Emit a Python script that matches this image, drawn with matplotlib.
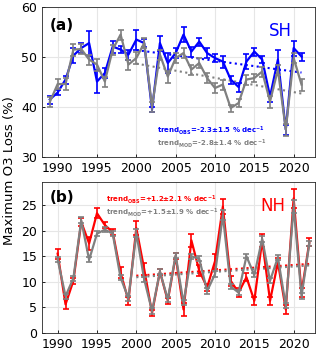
import numpy as np
import matplotlib
matplotlib.use("Agg")
import matplotlib.pyplot as plt

# SH, panel (a)
years_sh = np.arange(1989, 2022)
sh_obs = [41.5, 42.9, 45.5, 50.3, 51.8, 52.8, 45.1, 46.8, 52.1, 51.5, 50.5, 53.5,
          52.8, 39.5, 52.8, 48.8, 50.8, 54.5, 51.1, 53.1, 50.8, 49.8, 49.1, 45.5,
          44.0, 49.1, 51.1, 49.5, 42.1, 49.5, 35.5, 51.8, 50.1]
sh_obs_err = [0.8, 0.5, 0.8, 1.5, 1.0, 2.5, 2.3, 1.0, 1.2, 0.7, 1.0, 2.0,
              0.8, 0.5, 1.5, 2.0, 1.0, 1.5, 1.0, 0.8, 1.0, 0.8, 1.2, 0.8,
              0.9, 1.5, 0.8, 0.7, 1.0, 2.0, 1.0, 1.5, 0.8]
sh_mod = [41.0, 44.6, 44.6, 51.5, 51.6, 49.5, 48.5, 45.1, 51.5, 54.5, 48.5, 49.8,
          52.8, 40.1, 50.5, 46.1, 49.8, 50.8, 47.5, 48.8, 45.8, 43.8, 44.5, 39.8,
          40.8, 45.5, 45.8, 47.1, 41.1, 47.5, 35.5, 49.8, 44.5]
sh_mod_err = [1.0, 1.0, 1.2, 1.2, 1.0, 1.0, 1.2, 1.0, 1.0, 1.0, 1.0, 1.2,
              1.0, 1.0, 1.0, 1.2, 1.0, 1.0, 1.0, 1.0, 1.0, 1.0, 1.0, 0.7,
              0.8, 1.0, 0.8, 1.0, 1.2, 1.0, 1.2, 1.0, 1.2]
sh_trend_x = [2000, 2021]
sh_trend_obs = [51.4, 46.9]
sh_trend_mod = [48.7, 42.7]

# NH, panel (b)
years_nh = np.arange(1990, 2023)
nh_obs = [15.5, 5.6, 10.2, 21.7, 17.5, 23.4, 21.1, 19.7, 11.8, 6.3, 20.5, 12.5,
          3.9, 12.0, 6.3, 15.0, 4.6, 18.1, 12.2, 8.9, 14.0, 24.7, 10.2, 7.9,
          10.9, 6.3, 18.1, 6.3, 13.8, 4.6, 26.3, 7.9, 17.8]
nh_obs_err = [1.0, 1.0, 0.6, 0.8, 1.2, 1.0, 0.6, 0.6, 1.0, 0.8, 1.4, 1.2,
              0.6, 0.6, 0.6, 0.6, 1.2, 1.2, 1.0, 0.6, 1.5, 1.5, 1.0, 0.8,
              0.8, 0.8, 1.2, 0.8, 0.8, 0.8, 1.8, 0.8, 0.8]
nh_mod = [14.4, 7.2, 10.7, 22.0, 14.3, 19.4, 20.2, 19.4, 10.8, 6.8, 19.5, 10.5,
          4.3, 12.0, 6.6, 15.2, 5.9, 15.0, 14.5, 8.2, 11.5, 23.0, 9.1, 7.9,
          15.0, 11.3, 18.4, 10.2, 14.8, 5.3, 24.7, 7.2, 17.5]
nh_mod_err = [0.5, 0.5, 0.5, 0.6, 0.5, 0.5, 0.5, 0.5, 0.5, 0.5, 0.8, 0.5,
              0.5, 0.5, 0.5, 0.5, 0.5, 0.5, 0.5, 0.5, 0.6, 1.0, 0.5, 0.5,
              0.4, 0.4, 0.6, 0.5, 0.5, 0.5, 1.2, 0.6, 0.5]
nh_trend_x = [2000, 2022]
nh_trend_obs = [11.2, 13.5]
nh_trend_mod = [10.9, 13.2]

grey = '#808080'
fig = plt.figure(figsize=(3.2, 3.63), dpi=100)
ax1 = fig.add_axes([0.131, 0.5675, 0.853, 0.413])
ax2 = fig.add_axes([0.131, 0.0826, 0.853, 0.416])

def panel(ax, yrs, obs, obs_err, mod, mod_err, tx, tobs, tmod, col):
    ax.errorbar(yrs, obs, yerr=obs_err, color=col, lw=1.6, capsize=2, capthick=1.2, elinewidth=1.2, zorder=3)
    ax.errorbar(yrs, mod, yerr=mod_err, color=grey, lw=1.6, capsize=2, capthick=1.2, elinewidth=1.2, zorder=4)
    ax.plot(tx, tobs, ':', color=col, lw=1.5, zorder=2)
    ax.plot(tx, tmod, ':', color=grey, lw=1.5, zorder=2)
    ax.grid(True, color='#e6e6e6', lw=0.8)
    ax.set_axisbelow(True)
    ax.set_xlim(1988, 2022.7)
    ax.set_xticks(range(1990, 2021, 5))
    ax.tick_params(labelsize=9, direction='in', length=2, width=0.6)
    for s in ax.spines.values():
        s.set_linewidth(0.6)
        s.set_color('#262626')

panel(ax1, years_sh, sh_obs, sh_obs_err, sh_mod, sh_mod_err,
      sh_trend_x, sh_trend_obs, sh_trend_mod, 'blue')
ax1.set_ylim(30, 60)
ax1.set_yticks([30, 40, 50, 60])
ax1.text(0.03, 0.93, '(a)', transform=ax1.transAxes, fontsize=11, fontweight='bold', va='top')
ax1.text(0.83, 0.9, 'SH', transform=ax1.transAxes, fontsize=12, color='blue', va='top')
ax1.text(0.42, 0.155, r'trend$_{\mathbf{OBS}}$=-2.3±1.5 % dec$^{\mathbf{-1}}$', transform=ax1.transAxes,
         fontsize=5, color='blue', fontweight='bold')
ax1.text(0.42, 0.07, r'trend$_{\mathbf{MOD}}$=-2.8±1.4 % dec$^{\mathbf{-1}}$', transform=ax1.transAxes,
         fontsize=5, color=grey, fontweight='bold')

panel(ax2, years_nh, nh_obs, nh_obs_err, nh_mod, nh_mod_err,
      nh_trend_x, nh_trend_obs, nh_trend_mod, 'red')
ax2.set_ylim(0, 29.5)
ax2.set_yticks(range(0, 26, 5))
ax2.text(0.03, 0.95, '(b)', transform=ax2.transAxes, fontsize=11, fontweight='bold', va='top')
ax2.text(0.8, 0.9, 'NH', transform=ax2.transAxes, fontsize=12, color='red', va='top')
ax2.text(0.235, 0.865, r'trend$_{\mathbf{OBS}}$=+1.2±2.1 % dec$^{\mathbf{-1}}$', transform=ax2.transAxes,
         fontsize=5, color='red', fontweight='bold')
ax2.text(0.235, 0.78, r'trend$_{\mathbf{MOD}}$=+1.5±1.9 % dec$^{\mathbf{-1}}$', transform=ax2.transAxes,
         fontsize=5, color=grey, fontweight='bold')

fig.text(0.03, 0.53, 'Maximum O3 Loss (%)', rotation=90, fontsize=9.5, va='center', ha='center')

fig.savefig('out.png', dpi=100)
